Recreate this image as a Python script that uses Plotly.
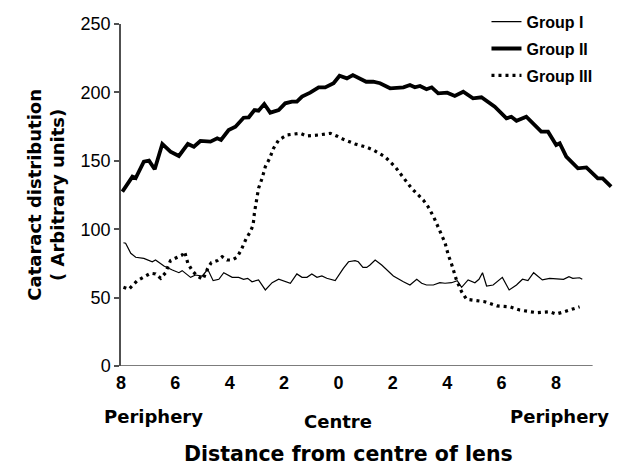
import plotly.graph_objects as go

# ---- data ----
g1_x = [-7.91,-7.83,-7.64,-7.46,-7.16,-6.85,-6.73,-6.42,-6.11,-5.87,
        -5.75,-5.44,-5.26,-5.01,-4.81,-4.61,-4.40,-4.22,-3.91,-3.67,
        -3.49,-3.34,-3.18,-2.94,-2.69,-2.44,-2.20,-2.02,-1.77,-1.53,
        -1.34,-1.16,-0.98,-0.79,-0.61,-0.43,-0.12,0.18,0.37,0.61,
        0.73,0.90,1.04,1.16,1.35,1.59,1.83,2.02,2.39,2.63,
        2.88,3.06,3.24,3.49,3.73,3.92,4.16,4.37,4.53,4.77,
        5.02,5.17,5.30,5.45,5.69,6.03,6.28,6.55,6.77,6.97,
        7.18,7.50,7.77,8.07,8.28,8.48,8.62,8.87,8.97]
g1_y = [90.1,89.7,82.4,79.5,78.7,76.2,77.5,73.1,70.2,68.2,
        69.7,64.8,66.5,65.8,70.7,62.4,63.4,68.2,64.8,64.8,
        63.4,64.1,61.6,62.9,55.6,60.9,63.4,62.4,60.5,67.3,
        64.8,64.8,67.3,64.8,65.8,64.1,62.4,71.4,76.2,77.0,
        76.2,72.1,72.1,73.8,77.5,73.8,69.7,65.8,61.6,59.2,
        63.4,60.5,59.2,59.2,60.9,60.5,60.9,62.4,57.5,62.9,
        60.9,63.4,68.2,58.5,59.2,64.8,55.6,59.2,63.4,62.4,
        68.2,62.9,64.1,63.4,63.4,65.3,64.1,64.5,63.4]

g2_x = [-7.95,-7.58,-7.46,-7.16,-6.97,-6.76,-6.48,-6.18,-5.87,-5.54,
        -5.32,-5.08,-4.71,-4.46,-4.32,-4.04,-3.79,-3.49,-3.30,-3.09,
        -2.94,-2.73,-2.51,-2.20,-1.96,-1.71,-1.53,-1.34,-1.04,-0.73,
        -0.49,-0.18,0.04,0.31,0.53,0.80,1.02,1.28,1.53,1.90,
        2.39,2.63,2.81,3.00,3.24,3.43,3.67,4.00,4.28,4.59,
        4.95,5.26,5.75,6.18,6.36,6.55,6.91,7.46,7.71,8.01,
        8.14,8.38,8.81,9.12,9.54,9.72,10.03]
g2_y = [127.4,138.4,137.4,149.3,150.1,143.8,162.3,156.7,153.5,162.3,
        160.3,164.5,164.0,166.4,165.2,172.5,174.9,181.5,181.8,187.1,
        186.6,191.5,185.2,187.1,192.0,193.2,193.2,196.9,199.8,203.7,
        203.7,206.7,212.2,210.3,212.7,210.3,207.8,207.8,206.7,203.0,
        203.7,205.4,203.7,204.7,202.3,203.7,199.3,199.8,197.4,200.5,
        195.7,196.4,189.5,181.1,182.2,179.3,182.2,171.3,171.3,161.5,
        162.8,153.0,144.5,145.2,137.2,137.2,131.1]

g3_x = [-7.91,-7.71,-7.40,-7.16,-6.91,-6.73,-6.54,-6.36,-6.18,-5.93,
        -5.75,-5.66,-5.54,-5.38,-5.20,-4.98,-4.81,-4.68,-4.46,-4.28,
        -4.10,-3.91,-3.73,-3.58,-3.39,-3.24,-3.14,-3.09,-3.03,-2.94,
        -2.81,-2.69,-2.53,-2.39,-2.20,-1.89,-1.41,-1.16,-0.73,-0.30,
        -0.06,0.18,0.61,1.04,1.28,1.71,2.08,2.39,2.69,3.12,
        3.30,3.51,3.71,3.92,4.04,4.16,4.34,4.53,4.71,5.02,
        5.38,5.83,6.30,6.67,7.28,7.77,8.01,8.32,8.62,8.87]
g3_y = [57.5,56.1,62.4,65.3,67.8,67.3,64.1,68.2,77.0,79.5,
        81.1,83.6,75.1,69.7,65.8,63.4,71.4,75.5,77.0,79.9,
        77.5,77.5,79.5,84.8,93.3,98.2,103.1,112.1,120.1,129.9,
        137.2,145.7,151.8,159.1,165.2,168.9,170.1,168.1,168.9,170.1,
        168.1,165.7,162.3,159.9,157.9,153.0,145.7,137.2,129.9,121.3,
        116.4,108.7,98.9,90.1,81.1,74.6,62.9,54.3,48.8,47.7,
        47.0,43.9,43.3,40.9,39.0,39.7,38.0,39.7,41.4,43.3]

series_names = ["Group I", "Group II", "Group III"]

x_tickvals = [-8, -6, -4, -2, 0, 2, 4, 6, 8]
x_ticktext = ["8", "6", "4", "2", "0", "2", "4", "6", "8"]
x_tickmarks = [-8, 0, 8]
x_axis_end = 9.35
y_tickvals = [0, 50, 100, 150, 200, 250]

region_labels = ["Periphery", "Centre", "Periphery"]
region_x = [-6.8, 0.0, 8.15]

AXC = "#505050"
BOLD = "DejaVu Sans"

fig = go.Figure()
fig.add_trace(go.Scatter(x=g1_x, y=g1_y, mode="lines", name=series_names[0],
                         legendgroup="a",
                         line=dict(color="black", width=1.2)))
fig.add_trace(go.Scatter(x=g2_x, y=g2_y, mode="lines", name=series_names[1],
                         legendgroup="b",
                         line=dict(color="black", width=3.8)))
fig.add_trace(go.Scatter(x=g3_x, y=g3_y, mode="lines", name=series_names[2],
                         legendgroup="c",
                         line=dict(color="black", width=3.2, dash="3px,4px")))

shapes = [dict(type="line", xref="x", yref="y", x0=-8, x1=x_axis_end, y0=0, y1=0,
               line=dict(color=AXC, width=1.5))]
for v in x_tickmarks:
    shapes.append(dict(type="line", xref="x", yref="y", ysizemode="pixel", yanchor=0,
                       x0=v, x1=v, y0=0, y1=-5, line=dict(color=AXC, width=1.5)))

annotations = []
for lab, xv, yy in zip(region_labels, region_x, [-0.148, -0.163, -0.148]):
    annotations.append(dict(text=lab, x=xv, xref="x", y=yy, yref="paper",
                            showarrow=False, xanchor="center", yanchor="middle",
                            font=dict(family=BOLD, size=18, color="black", weight="bold")))
annotations.append(dict(text="Distance from centre of lens", x=0.463, xref="paper",
                        y=-0.2573, yref="paper", showarrow=False, xanchor="center",
                        yanchor="middle",
                        font=dict(family=BOLD, size=20.5, color="black", weight="bold")))
annotations.append(dict(text="Cataract distribution<br>( Arbitrary units)", x=-0.153,
                        xref="paper", y=0.5, yref="paper", showarrow=False,
                        textangle=-90, xanchor="center", yanchor="middle",
                        font=dict(family=BOLD, size=18, color="black", weight="bold")))

fig.update_layout(
    width=644, height=465, autosize=False,
    margin=dict(l=121, r=30.5, t=24, b=99, autoexpand=False),
    plot_bgcolor="white", paper_bgcolor="white",
    showlegend=True,
    legend=dict(x=0.7554, y=0.9897, xref="container", yref="container",
                xanchor="left", yanchor="top",
                bgcolor="rgba(0,0,0,0)", borderwidth=0, tracegroupgap=3,
                font=dict(family="Liberation Sans", size=16, color="black", weight="bold")),
    shapes=shapes, annotations=annotations,
    xaxis=dict(range=[-8, 10.1], tickvals=x_tickvals, ticktext=x_ticktext,
               ticks="", showline=False, showgrid=False, zeroline=False,
               ticklabelstandoff=4,
               tickfont=dict(family="Liberation Sans", size=18, color="black", weight="bold")),
    yaxis=dict(range=[0, 250], tickvals=y_tickvals, ticks="outside", ticklen=5,
               tickcolor=AXC, tickwidth=1.5, showline=True, linecolor=AXC, linewidth=1.5,
               showgrid=False, zeroline=False,
               tickfont=dict(family="Liberation Sans", size=18, color="black")),
)

fig.write_html("out.html", config={"displayModeBar": False},
               post_script="document.body.style.margin='0';document.body.style.overflow='hidden';")
